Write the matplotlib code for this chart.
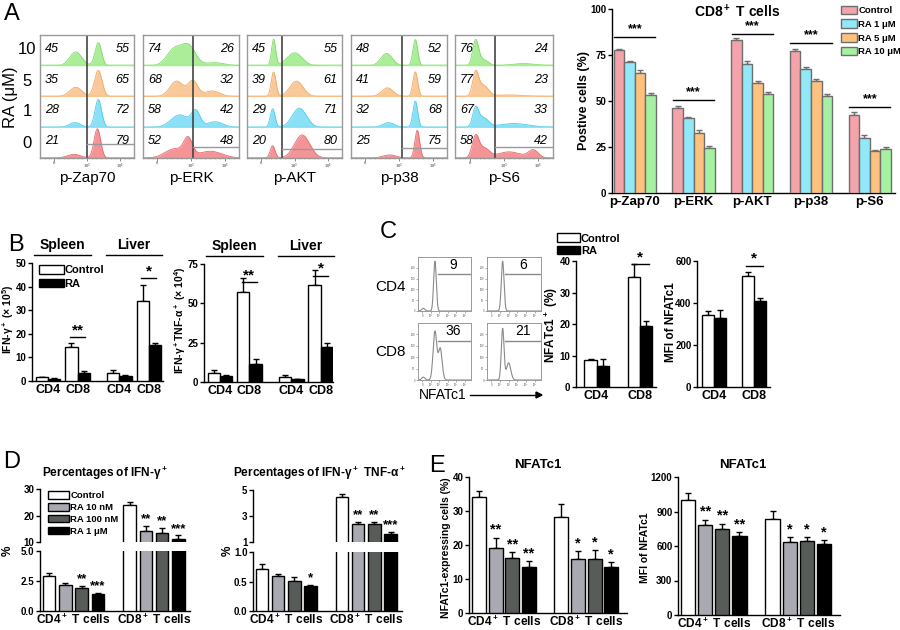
import numpy as np
import matplotlib.pyplot as plt
from matplotlib.patches import Patch

plt.rcParams['font.family'] = ['Liberation Sans', 'DejaVu Sans']
plt.rcParams['font.weight'] = 'bold'
plt.rcParams['axes.labelweight'] = 'bold'
plt.rcParams['mathtext.default'] = 'regular'
plt.rcParams['axes.linewidth'] = 1.0

# ---------------- data ----------------
# A: flow histograms, rows bottom->top are RA 0, 1, 5, 10 uM
markers = ['p-Zap70', 'p-ERK', 'p-AKT', 'p-p38', 'p-S6']
ra_rows = ['0', '1', '5', '10']
row_fill = ['#F4898B', '#7EDDF4', '#F9C48E', '#A2EC8E']
row_edge = ['#E8686C', '#4CCBEA', '#F0A660', '#7DDB68']
gate_x = [0.50, 0.52, 0.365, 0.53, 0.41]
gate_h = [0.45, 0.36, 0.29, 0.33, 0.36]
pct_neg = [[21, 28, 35, 45], [52, 58, 68, 74], [20, 29, 39, 45],
           [25, 32, 41, 48], [58, 67, 77, 76]]
pct_pos = [[79, 72, 65, 55], [48, 42, 32, 26], [80, 71, 61, 55],
           [75, 68, 59, 52], [42, 33, 23, 24]]
# peaks: (centre, width, height) per row
zap70_peaks = [[(0.36, 0.07, 0.12), (0.61, 0.035, 0.95)],
               [(0.37, 0.06, 0.15), (0.62, 0.035, 0.9)],
               [(0.38, 0.065, 0.3), (0.62, 0.04, 0.85)],
               [(0.38, 0.065, 0.45), (0.62, 0.035, 0.75)]]
erk_peaks = [[(0.33, 0.1, 0.3), (0.47, 0.045, 0.55), (0.7, 0.12, 0.22)],
             [(0.38, 0.09, 0.4), (0.55, 0.045, 0.5), (0.75, 0.08, 0.18)],
             [(0.35, 0.07, 0.5), (0.52, 0.05, 0.5), (0.72, 0.08, 0.18)],
             [(0.33, 0.08, 0.55), (0.48, 0.07, 0.6), (0.75, 0.1, 0.1)]]
akt_peaks = [[(0.27, 0.025, 0.4), (0.58, 0.08, 0.75)],
             [(0.27, 0.025, 0.6), (0.55, 0.075, 0.62)],
             [(0.28, 0.025, 0.8), (0.52, 0.07, 0.5)],
             [(0.28, 0.022, 0.85), (0.5, 0.08, 0.42)]]
p38_peaks = [[(0.4, 0.07, 0.1), (0.69, 0.025, 0.9)],
             [(0.39, 0.06, 0.15), (0.67, 0.025, 0.85)],
             [(0.38, 0.06, 0.28), (0.67, 0.025, 0.8)],
             [(0.37, 0.06, 0.4), (0.67, 0.025, 0.85)]]
s6_peaks = [[(0.21, 0.035, 0.7), (0.3, 0.05, 0.3), (0.55, 0.12, 0.2), (0.8, 0.05, 0.25)],
            [(0.21, 0.03, 0.6), (0.29, 0.05, 0.3), (0.6, 0.15, 0.12)],
            [(0.21, 0.03, 0.75), (0.29, 0.05, 0.35), (0.55, 0.15, 0.05)],
            [(0.21, 0.03, 0.8), (0.29, 0.05, 0.2), (0.7, 0.12, 0.07)]]
hist_peaks = [zap70_peaks, erk_peaks, akt_peaks, p38_peaks, s6_peaks]

# A: bar chart
a_series = ['Control', 'RA 1 μM', 'RA 5 μM', 'RA 10 μM']
a_colors = ['#F4A3AA', '#90E8F8', '#FFC27E', '#A6F0A2']
a_vals = [[77.5, 46, 83, 77, 42.5],
          [71, 41, 70, 67.5, 30],
          [65, 32.5, 60, 61, 23],
          [53, 24.5, 54, 52.5, 24]]
a_errs = [[1, 1.5, 1.5, 1, 1.5],
          [0.5, 0.5, 2, 1.2, 1.5],
          [1.8, 2, 0.8, 1.2, 0.5],
          [1.5, 1, 1, 1.2, 1]]
a_sig = [85, 50.5, 86.6, 81.5, 46.7]

# B
b_cells = ['CD4', 'CD8', 'CD4', 'CD8']
b_tissues = ['Spleen', 'Liver']
b1_ctrl = [1.5, 14.2, 3.5, 34]
b1_ctrl_err = [0.3, 2, 1, 6.5]
b1_ra = [1.0, 3.2, 2.3, 15.2]
b1_ra_err = [0.2, 1, 0.3, 1]
b1_sig = {1: ('**', 18.6), 3: ('*', 43.6)}
b2_ctrl = [6, 57, 3, 61.5]
b2_ctrl_err = [1.5, 9, 1.5, 10]
b2_ra = [3.5, 11.5, 1.8, 22]
b2_ra_err = [0.7, 3, 0.3, 3]
b2_sig = {1: ('**', 63.5), 3: ('*', 67.4)}

# C
c_cells = ['CD4', 'CD8']
c_hist_pct = [[9, 6], [36, 21]]
c_hist_peaks = [[[(0.1, 0.03, 0.05), (0.32, 0.025, 0.92)], [(0.29, 0.025, 0.92)]],
                [[(0.1, 0.03, 0.05), (0.32, 0.035, 0.85), (0.42, 0.035, 0.55)],
                 [(0.29, 0.025, 0.9), (0.4, 0.04, 0.3)]]]
c_gate_start = [0.38, 0.33]
c1_ctrl, c1_ctrl_err = [8.5, 35], [0.5, 4]
c1_ra, c1_ra_err = [6.8, 19.5], [2, 1.5]
c2_ctrl, c2_ctrl_err = [345, 530], [15, 20]
c2_ra, c2_ra_err = [330, 410], [35, 15]

# D / E
de_series = ['Control', 'RA 10 nM', 'RA 100 nM', 'RA 1 μM']
de_colors = ['white', '#A9A9B1', '#585C58', 'black']
de_groups = ['CD4$^+$ T cells', 'CD8$^+$ T cells']
d1_vals = [[2.9, 2.2, 1.9, 1.4], [23.8, 14, 13.5, 11.3]]
d1_errs = [[0.25, 0.1, 0.2, 0.1], [1.3, 2, 1.8, 1.2]]
d1_stars = [['', '', '**', '***'], ['', '**', '**', '***']]
d2_vals = [[0.72, 0.59, 0.51, 0.42], [4.5, 2.4, 2.35, 1.65]]
d2_errs = [[0.08, 0.04, 0.07, 0.02], [0.2, 0.15, 0.2, 0.15]]
d2_stars = [['', '', '', '*'], ['', '**', '**', '***']]
e1_vals = [[34, 19.2, 16.2, 13.4], [28.3, 16, 15.8, 13.4]]
e1_errs = [[2, 3, 1.8, 1.8], [3.8, 2.3, 2.8, 1.6]]
e1_stars = [['', '**', '**', '**'], ['', '*', '*', '*']]
e2_vals = [[1000, 785, 750, 690], [835, 635, 645, 620]]
e2_errs = [[65, 45, 45, 30], [70, 40, 35, 30]]
e2_stars = [['', '**', '**', '**'], ['', '*', '*', '*']]

# ---------------- helpers ----------------
W, H = 900, 630
fig = plt.figure(figsize=(9, 6.3), dpi=100)


def px_axes(x0, y0, x1, y1):
    return fig.add_axes([x0 / W, 1 - y1 / H, (x1 - x0) / W, (y1 - y0) / H])


def ftext(x, y, s, **kw):
    kw.setdefault('ha', 'center')
    kw.setdefault('va', 'center')
    fig.text(x / W, 1 - y / H, s, **kw)


def prism(ax, ylim, yticks, ticklabels=None):
    ax.set_ylim(*ylim)
    ax.set_yticks(yticks)
    if ticklabels is not None:
        ax.set_yticklabels(ticklabels)
    ax.spines[['top', 'right']].set_visible(False)
    ax.tick_params(axis='y', direction='out', length=3, width=1, labelsize=7, pad=1)
    ax.tick_params(axis='x', length=0, labelsize=9, pad=2)
    ax.patch.set_alpha(0)


def draw_bars(ax, xs, vals, errs, colors, width, ec='black', lw=1.0):
    ax.bar(xs, vals, width, color=colors, edgecolor=ec, linewidth=lw, zorder=3)
    ax.errorbar(xs, vals, yerr=[np.zeros(len(errs)), errs], fmt='none',
                ecolor=ec, elinewidth=lw, capsize=2.5, capthick=lw, zorder=2)


def curve(x, peaks):
    return sum(h * np.exp(-0.5 * ((x - c) / w) ** 2) for c, w, h in peaks)


xg = np.linspace(0, 1, 400)

# ---------------- panel A histograms ----------------
hist_px = [(40, 134), (143, 239), (247, 342), (351, 447), (455, 553)]
for m, (x0, x1) in enumerate(hist_px):
    ax = px_axes(x0, 35, x1, 158)
    for r in range(4):
        yv = curve(xg, hist_peaks[m][r])
        ax.fill_between(xg, r, r + yv, color=row_fill[r], lw=0, alpha=0.9)
        ax.plot(xg, r + yv, color=row_edge[r], lw=0.6)
        ax.axhline(r + 0.01, color=row_fill[r], lw=1.2, alpha=0.6)
        ax.text(0.05, r + 0.55, str(pct_neg[m][r]), style='italic', weight='normal',
                fontsize=9, ha='left', va='center')
        ax.text(0.95, r + 0.55, str(pct_pos[m][r]), style='italic', weight='normal',
                fontsize=9, ha='right', va='center')
    ax.axvline(gate_x[m], color='#444444', lw=1.2)
    ax.plot([gate_x[m], 1], [gate_h[m], gate_h[m]], color='#999999', lw=1)
    ax.set_xlim(0, 1)
    ax.set_ylim(0, 4)
    ax.set_yticks([])
    ax.set_xticks([0.15, 0.5, 0.85])
    ax.set_xticks(np.arange(0.05, 1, 0.05), minor=True)
    ax.tick_params(axis='x', length=2, width=0.6, labelsize=3, colors='#777777', pad=0.5)
    ax.tick_params(axis='x', which='minor', length=1, width=0.4, colors='#999999')
    ax.set_xticklabels(['0', '10$^3$', '10$^5$'])
    for s in ax.spines.values():
        s.set_color('#999999')
    ftext((x0 + x1) / 2, 178, markers[m], fontsize=11, weight='normal')

for r, lab in enumerate(ra_rows):
    ftext(27, 143 - r * 31, lab, fontsize=12, weight='normal')
ftext(10, 97, 'RA (μM)', fontsize=12, weight='normal', rotation=90)
ftext(12, 14, 'A', fontsize=17, weight='normal')

# ---------------- panel A bars ----------------
ax = px_axes(612, 9, 895, 193)
gx = np.arange(len(markers))
for j in range(4):
    draw_bars(ax, gx + (j - 1.5) * 0.18, a_vals[j], a_errs[j], a_colors[j], 0.18,
              ec='#6E6E6E', lw=1.0)
for g, yv in enumerate(a_sig):
    ax.plot([g - 0.35, g + 0.35], [yv, yv], color='black', lw=1)
    ax.text(g, yv + 1, '***', ha='center', va='bottom', fontsize=9)
prism(ax, (0, 100), [0, 25, 50, 75, 100])
ax.set_xlim(-0.39, 4.43)
ax.set_xticks(gx)
ax.set_xticklabels(markers, fontsize=9.5)
ftext(737, 12, 'CD8$^+$ T cells', fontsize=10)
ftext(584, 100, 'Postive cells (%)', fontsize=9, rotation=90)
fig.legend(handles=[Patch(facecolor=c, edgecolor='#6E6E6E', label=l)
                    for c, l in zip(a_colors, a_series)],
           loc='upper left', bbox_to_anchor=(837 / W, 1 - 2 / H), frameon=False,
           fontsize=6.8, handlelength=1.7, handleheight=1.0, handletextpad=0.15,
           labelspacing=0.45, borderaxespad=0)

# ---------------- panel B ----------------
b_centers = np.array([1.3, 3.7, 7.1, 9.5])


def panel_b(box, xlim, ctrl, ctrl_err, ra, ra_err, sig, ylim, yticks, ylabel, ylx):
    ax = px_axes(*box)
    draw_bars(ax, b_centers - 0.5, ctrl, ctrl_err, 'white', 1.0)
    draw_bars(ax, b_centers + 0.5, ra, ra_err, 'black', 1.0)
    for k, (s, yv) in sig.items():
        ax.plot([b_centers[k] - 0.6, b_centers[k] + 0.6], [yv, yv], color='black', lw=1)
        ax.text(b_centers[k], yv, s, ha='center', va='bottom', fontsize=11)
    prism(ax, ylim, yticks)
    ax.set_xlim(*xlim)
    ax.set_xticks(b_centers)
    ax.set_xticklabels(b_cells, fontsize=9)
    for t, name in enumerate(b_tissues):
        c0, c1 = b_centers[2 * t], b_centers[2 * t + 1]
        ax.plot([c0 - 1.1, c1 + 1.1], [1.07, 1.07], color='black', lw=1,
                transform=ax.get_xaxis_transform(), clip_on=False)
        ax.text((c0 + c1) / 2, 1.09, name, ha='center', va='bottom', fontsize=10,
                transform=ax.get_xaxis_transform())
    ftext(ylx, (box[1] + box[3]) / 2 - 3, ylabel, fontsize=7.5, rotation=90)
    return ax


ax = panel_b((32, 263, 163, 381), (0, 10.65), b1_ctrl, b1_ctrl_err, b1_ra, b1_ra_err,
             b1_sig, (0, 50), [0, 10, 20, 30, 40, 50], 'IFN-γ$^+$ (× 10$^5$)', 8)
ax.legend(handles=[Patch(facecolor='white', edgecolor='black', label='Control'),
                   Patch(facecolor='black', edgecolor='black', label='RA')],
          loc='upper left', bbox_to_anchor=(0.02, 1.02), frameon=False, fontsize=8,
          handlelength=2.2, handleheight=0.8, handletextpad=0.1, labelspacing=0.3,
          borderaxespad=0)
panel_b((204, 264, 333, 382), (0, 10.5), b2_ctrl, b2_ctrl_err, b2_ra, b2_ra_err,
        b2_sig, (0, 75), [0, 25, 50, 75], 'IFN-γ$^+$TNF-α$^+$ (× 10$^4$)', 180)
ftext(16, 245, 'B', fontsize=17, weight='normal')

# ---------------- panel C histograms ----------------
c_boxes = [[(418, 257, 471, 311), (487, 257, 541, 311)],
           [(418, 323, 471, 380), (487, 323, 541, 380)]]
for i in range(2):
    for j in range(2):
        ax = px_axes(*c_boxes[i][j])
        ax.plot(xg, curve(xg, c_hist_peaks[i][j]), color='#8A8A8A', lw=0.8)
        ax.plot([c_gate_start[j], 1], [0.68, 0.68], color='#8A8A8A', lw=1)
        ax.text(0.66, 0.86, str(c_hist_pct[i][j]), ha='center', va='center',
                fontsize=10, weight='normal')
        ax.set_xlim(0, 1)
        ax.set_ylim(0, 1)
        ax.set_xticks(np.arange(0.08, 1, 0.16))
        ax.set_yticks(np.arange(0, 1, 0.2))
        ax.tick_params(length=1.5, width=0.5, labelsize=2, colors='#888888', pad=0.5)
        ax.set_xticklabels(['0', '10²', '10³', '10⁴', '10⁵', '10⁶'])
        ax.set_yticklabels(['0', '50', '100', '150', '200'])
        for s in ax.spines.values():
            s.set_color('#999999')
            s.set_linewidth(0.7)
    ftext(391, 287 + i * 65, c_cells[i], fontsize=11, weight='normal')
ftext(443, 395, 'NFATc1', fontsize=10, weight='normal')
fig.add_artist(plt.Line2D([470 / W, 536 / W], [1 - 395 / H, 1 - 395 / H],
                          color='black', lw=1))
fig.add_artist(plt.Polygon([[536 / W, 1 - 392 / H], [542 / W, 1 - 395 / H],
                            [536 / W, 1 - 398 / H]], color='black'))
ftext(388, 232, 'C', fontsize=17, weight='normal')

# ---------------- panel C bars ----------------
ax = px_axes(576, 261, 656, 387)
cc = np.array([1.7, 5.3])
draw_bars(ax, cc - 0.5, c1_ctrl, c1_ctrl_err, 'white', 1.0)
draw_bars(ax, cc + 0.5, c1_ra, c1_ra_err, 'black', 1.0)
ax.plot([cc[1] - 0.7, cc[1] + 0.7], [39, 39], color='black', lw=1, clip_on=False)
ax.text(cc[1], 39, '*', ha='center', va='bottom', fontsize=11)
prism(ax, (0, 40), [0, 10, 20, 30, 40])
ax.set_xlim(0, 6.6)
ax.set_xticks(cc)
ax.set_xticklabels(c_cells, fontsize=9)
ftext(551, 325, 'NFATc1$^+$ (%)', fontsize=8.5, rotation=90)
fig.legend(handles=[Patch(facecolor='white', edgecolor='black', label='Control'),
                    Patch(facecolor='black', edgecolor='black', label='RA')],
           loc='upper left', bbox_to_anchor=(553 / W, 1 - 229 / H), frameon=False,
           fontsize=8, handlelength=2.0, handleheight=0.8, handletextpad=0.1,
           labelspacing=0.2, borderaxespad=0)

ax = px_axes(697, 261, 770, 387)
cc = np.array([1.4, 4.8])
draw_bars(ax, cc - 0.5, c2_ctrl, c2_ctrl_err, 'white', 1.0)
draw_bars(ax, cc + 0.5, c2_ra, c2_ra_err, 'black', 1.0)
ax.plot([cc[1] - 0.7, cc[1] + 0.7], [578, 578], color='black', lw=1)
ax.text(cc[1], 578, '*', ha='center', va='bottom', fontsize=11)
prism(ax, (0, 600), [0, 200, 400, 600])
ax.set_xlim(0, 6.1)
ax.set_xticks(cc)
ax.set_xticklabels(c_cells, fontsize=9)
ftext(671, 322, 'MFI of NFATc1', fontsize=8.5, rotation=90)

# ---------------- panel D (broken axes) ----------------
d_step_w = 0.77
d_first = [0.55, 5.49]


def d_positions(g):
    return d_first[g] + np.arange(4)


def panel_d(xl, xr, top_y, bot_y, vals, errs, stars, top_lim, top_ticks,
            bot_lim, bot_ticks, bot_labels, title, title_x, ylab_x, legend=False):
    axt = px_axes(xl, top_y[0], xr, top_y[1])
    axb = px_axes(xl, bot_y[0], xr, bot_y[1])
    for g in range(2):
        xs = d_positions(g)
        for a in (axt, axb):
            draw_bars(a, xs, vals[g], errs[g], de_colors, d_step_w)
        for j in range(4):
            if stars[g][j]:
                top = vals[g][j] + errs[g][j]
                a = axt if vals[g][j] > bot_lim[1] else axb
                span = (top_lim if a is axt else bot_lim)
                a.text(xs[j], top + 0.01 * (span[1] - span[0]), stars[g][j],
                       ha='center', va='bottom', fontsize=9.5)
    prism(axt, top_lim, top_ticks)
    axt.spines['bottom'].set_visible(False)
    axt.set_xticks([])
    prism(axb, bot_lim, bot_ticks, bot_labels)
    axb.set_xticks([np.mean(d_positions(0)), np.mean(d_positions(1))])
    axb.set_xticklabels(de_groups, fontsize=8.6)
    axb.tick_params(axis='x', pad=1)
    for a in (axt, axb):
        a.set_xlim(0, 9.2)
    ftext(title_x, 473, title, fontsize=8.6)
    ftext(ylab_x, 551, '%', fontsize=8.5, rotation=90)
    if legend:
        axt.legend(handles=[Patch(facecolor=c, edgecolor='black', label=l)
                            for c, l in zip(de_colors, de_series)],
                   loc='upper left', bbox_to_anchor=(0.03, 1.03), frameon=False,
                   fontsize=6.8, handlelength=2.2, handleheight=0.85, handletextpad=0.15,
                   labelspacing=0.3, borderaxespad=0)


panel_d(40, 190, (489, 542), (551, 611), d1_vals, d1_errs, d1_stars, (10, 30),
        [10, 20, 30], (0, 5), [0, 2.5, 5], ['0.0', '2.5', '5.0'],
        'Percentages of IFN-γ$^+$', 105, 8, legend=True)
panel_d(253, 402, (490, 542), (552, 611), d2_vals, d2_errs, d2_stars, (1, 5),
        [1, 3, 5], (0, 1), [0, 0.5, 1], ['0.0', '0.5', '1.0'],
        'Percentages of IFN-γ$^+$ TNF-α$^+$', 319, 228)
ftext(12, 462, 'D', fontsize=17, weight='normal')

# ---------------- panel E ----------------
e_first = [0.6, 5.55]


def panel_e(box, vals, errs, stars, ylim, yticks, ylabel, ylab_x, title_x):
    ax = px_axes(*box)
    span = ylim[1] - ylim[0]
    for g in range(2):
        xs = e_first[g] + np.arange(4)
        draw_bars(ax, xs, vals[g], errs[g], de_colors, 0.84)
        for j in range(4):
            if stars[g][j]:
                ax.text(xs[j], vals[g][j] + errs[g][j] + 0.005 * span, stars[g][j],
                        ha='center', va='bottom', fontsize=10.5)
    prism(ax, ylim, yticks)
    ax.set_xlim(0, 9.5)
    ax.set_xticks([e_first[0] + 1.5, e_first[1] + 1.5])
    ax.set_xticklabels(de_groups, fontsize=8.6)
    ax.tick_params(axis='x', pad=1)
    ftext(title_x, 465, 'NFATc1', fontsize=9.5)
    ftext(ylab_x, 548, ylabel, fontsize=7.5, rotation=90)


panel_e((469, 477, 627, 613), e1_vals, e1_errs, e1_stars, (0, 40), [0, 10, 20, 30, 40],
        'NFATc1-expressing cells (%)', 446, 538)
panel_e((678, 477, 840, 615), e2_vals, e2_errs, e2_stars, (0, 1200),
        [0, 300, 600, 900, 1200], 'MFI of NFATc1', 645, 743)
ftext(437, 466, 'E', fontsize=17, weight='normal')

fig.savefig('out.png', dpi=100)
